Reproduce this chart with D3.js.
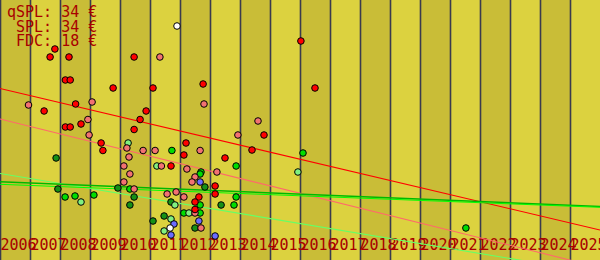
<!DOCTYPE html>
<html>
<head>
<meta charset="utf-8">
<script src="https://cdn.jsdelivr.net/npm/d3@7"></script>
<style>
  body { margin: 0; padding: 0; background: #fff; }
  svg { display: block; }
</style>
</head>
<body>
<div id="my_dataviz"></div>
<script>
// years shown along the bottom (one band per year)
var years = d3.range(2006, 2026);

// legend lines
var legendLines = ["qSPL: 34 €", " SPL: 34 €", " FDC: 18 €"];

// points: [decimal year, price]
var qsplPoints = [
  [2007.83, 105.5], [2007.67, 101.5], [2008.30, 101.5], [2010.47, 101.5], [2016.03, 109.5],
  [2008.18, 90], [2008.34, 90], [2009.77, 86], [2011.10, 86], [2012.77, 88], [2016.50, 86],
  [2007.47, 74.5], [2008.52, 78], [2010.87, 74.5], [2010.67, 70.25], [2008.70, 68],
  [2008.18, 66.5], [2008.34, 66.5], [2010.47, 65.25], [2014.80, 62.5], [2009.37, 58.5],
  [2009.43, 54.75], [2012.20, 58.5], [2012.13, 52.5], [2014.40, 55], [2013.50, 51],
  [2011.70, 47], [2013.17, 37], [2013.17, 33], [2012.63, 31.5], [2012.50, 29], [2012.50, 25.25]
];
var splPoints = [
  [2011.33, 101.5], [2006.95, 77.5], [2009.07, 79], [2012.80, 78], [2008.93, 70.25],
  [2014.60, 69.5], [2013.93, 62.5], [2008.97, 62.5], [2010.23, 56], [2010.77, 54.75],
  [2011.17, 54.75], [2012.67, 54.75], [2010.30, 51.5], [2011.38, 47], [2010.13, 47],
  [2012.23, 45.5], [2013.23, 44], [2010.33, 43], [2012.50, 41.5], [2012.40, 39],
  [2010.13, 39], [2010.47, 35.5], [2011.57, 33], [2011.87, 34], [2012.13, 31.5],
  [2012.50, 23.5], [2012.70, 16]
];
var fdcPoints = [
  [2011.73, 54.75], [2016.10, 53.5], [2013.87, 47], [2012.70, 44], [2012.67, 43],
  [2010.33, 35.5], [2009.13, 32.5], [2008.17, 31.5], [2008.50, 32], [2013.87, 31.5],
  [2012.67, 27.5], [2013.80, 27.5], [2012.13, 23.5], [2012.67, 23.5], [2021.53, 16]
];
var fdcDarkPoints = [
  [2007.87, 51], [2007.93, 35.5], [2009.93, 36], [2012.83, 36.5], [2010.47, 31.5],
  [2011.70, 29], [2010.33, 27.5], [2013.37, 27.5], [2011.47, 22], [2011.10, 19.5], [2012.50, 16]
];
var fdcLightPoints = [
  [2010.27, 58.5], [2011.23, 47], [2015.93, 44], [2008.70, 29], [2011.83, 27.5],
  [2012.30, 23.5], [2011.70, 20.5], [2011.47, 14.5]
];
var bluePoints = [
  [2012.67, 39], [2012.63, 19.5], [2011.80, 18], [2011.70, 12.5], [2013.17, 12]
];
var whitePoints = [
  [2011.90, 117], [2011.67, 16]
];

// trend lines: [year, price] at both ends
var qsplTrend = [[2006, 85.75], [2026, 15]];
var splTrend = [[2006, 70.5], [2026, -3.75]];
var fdcDarkTrend = [[2006, 39.15], [2026, 26.75]];
var fdcTrend = [[2006, 37.85], [2026, 26.35]];
var fdcLightTrend = [[2006, 43.25], [2026, -6.75]];

var width = 600, height = 260;

var svg = d3.select("#my_dataviz")
  .append("svg")
    .attr("width", width)
    .attr("height", height);

var x = d3.scaleLinear().domain([2006, 2026]).range([0, width]);
var y = d3.scaleLinear().domain([0, 130]).range([height, 0]);

// year bands
svg.selectAll("rect.band")
  .data(years)
  .enter()
  .append("rect")
    .attr("class", "band")
    .attr("x", function(d) { return x(d); })
    .attr("y", 0)
    .attr("width", x(2007) - x(2006))
    .attr("height", height)
    .attr("fill", function(d, i) { return i % 2 == 0 ? "#c9bd37" : "#dcd23f"; });

// band separators
svg.selectAll("line.sep")
  .data(years)
  .enter()
  .append("line")
    .attr("x1", function(d) { return x(d) + 0.5; })
    .attr("x2", function(d) { return x(d) + 0.5; })
    .attr("y1", 0)
    .attr("y2", height)
    .attr("stroke", "#3a3a4e")
    .attr("stroke-width", 1.6);

// year labels
var axis = svg.append("g")
  .attr("transform", "translate(0,250)")
  .call(d3.axisBottom(x).tickValues(years).tickFormat(d3.format("d")).tickSize(0));
axis.select(".domain").remove();
axis.selectAll("text")
  .attr("y", 0)
  .attr("dy", 0)
  .attr("text-anchor", "start")
  .attr("fill", "#a80000")
  .style("font-family", "'DejaVu Sans Mono', monospace")
  .style("font-size", "15px");

// trend lines
var line = d3.line()
  .x(function(d) { return x(d[0]); })
  .y(function(d) { return y(d[1]); });

function trend(data, color, w) {
  svg.append("path")
    .datum(data)
    .attr("d", line)
    .attr("fill", "none")
    .attr("stroke", color)
    .attr("stroke-width", w);
}
trend(qsplTrend, "#ff0000", 1.1);
trend(splTrend, "#ff6a6a", 1.1);
trend(fdcLightTrend, "#66ff66", 1.1);
trend(fdcDarkTrend, "#00b800", 1.4);
trend(fdcTrend, "#00ff00", 1);

// points
function dots(data, color) {
  svg.append("g")
    .selectAll("circle")
    .data(data)
    .enter()
    .append("circle")
      .attr("cx", function(d) { return x(d[0]); })
      .attr("cy", function(d) { return y(d[1]); })
      .attr("r", 3.3)
      .attr("fill", color)
      .attr("stroke", "#000")
      .attr("stroke-width", 1);
}
dots(fdcDarkPoints, "#169016");
dots(fdcPoints, "#00dd00");
dots(fdcLightPoints, "#80f080");
dots(splPoints, "#f27272");
dots(qsplPoints, "#ff0000");
dots(bluePoints, "#6b6bff");
dots(whitePoints, "#ffffff");

// legend
svg.append("g")
  .selectAll("text")
  .data(legendLines)
  .enter()
  .append("text")
    .attr("x", 7)
    .attr("y", function(d, i) { return 17 + i * 14.5; })
    .attr("fill", "#a80000")
    .style("font-family", "'DejaVu Sans Mono', monospace")
    .style("font-size", "15px")
    .style("white-space", "pre")
    .text(function(d) { return d; });
</script>
</body>
</html>
